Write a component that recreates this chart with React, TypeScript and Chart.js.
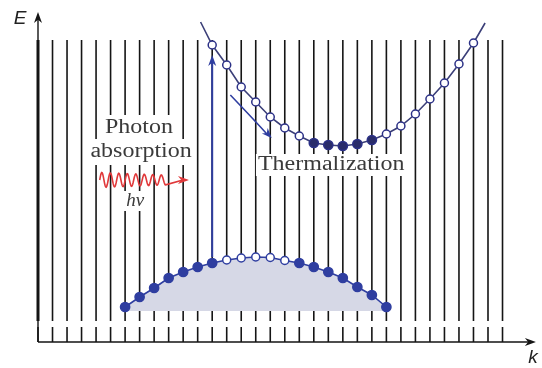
import React, { useEffect, useRef } from "react";
import { Chart, registerables } from "chart.js";

Chart.register(...registerables);

// Vertical k-lines (one per allowed k state)
const kLines = [0, 1, 2, 3, 4, 5, 6, 7, 8, 9, 10, 11, 12, 13, 14, 15, 16, 17, 18, 19, 20, 21, 22, 23, 24, 25, 26, 27, 28, 29, 30, 31, 32];

// Conduction band (first / last entries are line ends with no state marker)
const conductionK = [11.2, 12, 13, 14, 15, 16, 17, 18, 19, 20, 21, 22, 23, 24, 25, 26, 27, 28, 29, 30, 30.8];
const conductionE = [32.0, 29.7, 27.7, 25.5, 24.0, 22.5, 21.4, 20.6, 19.9, 19.7, 19.6, 19.8, 20.2, 20.8, 21.6, 22.8, 24.3, 25.9, 27.8, 29.9, 31.9];
const conductionState = ["end", "empty", "empty", "empty", "empty", "empty", "empty", "empty", "filled", "filled", "filled", "filled", "filled", "empty", "empty", "empty", "empty", "empty", "empty", "empty", "end"];

// Valence band
const valenceK = [6, 7, 8, 9, 10, 11, 12, 13, 14, 15, 16, 17, 18, 19, 20, 21, 22, 23, 24];
const valenceE = [3.5, 4.5, 5.4, 6.4, 7.0, 7.5, 7.9, 8.2, 8.4, 8.5, 8.45, 8.15, 7.9, 7.5, 7.0, 6.4, 5.5, 4.7, 3.5];
const valenceState = ["filled", "filled", "filled", "filled", "filled", "filled", "filled", "empty", "empty", "empty", "empty", "empty", "filled", "filled", "filled", "filled", "filled", "filled", "filled"];

const valenceBase = 3.1;

// Axis / annotation layout in data units
const X_MAX = 34.3;
const Y_MAX = 33;
const LINE_TOP = 30.2;
const LINE_BOTTOM = 2.1;
const TICK_TOP = 1.5;

const labels = {
  photon: { text: "Photon", k: 6.96, e: 21.4 },
  absorption: { text: "absorption", k: 7.1, e: 19.0 },
  therm: { text: "Thermalization", k: 20.2, e: 17.7 },
  hnu: { text: "hν", k: 6.7, e: 14.1 },
};

const NAVY = "#2c3187";
const NAVY_DARK = "#2a2d6a";
const BLUE = "#2f3ea0";
const RED = "#e0383a";
const TEXT = "#3a3a3a";
const SERIF = "20px 'Liberation Serif'";
const SERIF_IT = "italic 19px 'Liberation Serif'";
const STRETCH = 1.2;

function arrowHead(ctx: CanvasRenderingContext2D, x1: number, y1: number, x2: number, y2: number, len: number, half: number, color: string) {
  const a = Math.atan2(y2 - y1, x2 - x1);
  ctx.save();
  ctx.fillStyle = color;
  ctx.beginPath();
  ctx.moveTo(x2, y2);
  ctx.lineTo(x2 - len * Math.cos(a) + half * Math.sin(a), y2 - len * Math.sin(a) - half * Math.cos(a));
  ctx.lineTo(x2 - len * 0.7 * Math.cos(a), y2 - len * 0.7 * Math.sin(a));
  ctx.lineTo(x2 - len * Math.cos(a) - half * Math.sin(a), y2 - len * Math.sin(a) + half * Math.cos(a));
  ctx.closePath();
  ctx.fill();
  ctx.restore();
}

function whiteBox(ctx: CanvasRenderingContext2D, xs: any, ys: any, t: { text: string; k: number; e: number }, font: string, stretch: number, padX: number, h: number) {
  ctx.save();
  ctx.font = font;
  const w = ctx.measureText(t.text).width * stretch + padX * 2;
  const cx = xs.getPixelForValue(t.k);
  const cy = ys.getPixelForValue(t.e);
  ctx.fillStyle = "#ffffff";
  ctx.fillRect(cx - w / 2, cy - h / 2, w, h);
  ctx.restore();
}

const backgroundPlugin = {
  id: "kLines",
  beforeDatasetsDraw(chart: any) {
    const { ctx, scales } = chart;
    const xs = scales.x;
    const ys = scales.y;
    ctx.save();
    ctx.strokeStyle = "#151515";
    kLines.forEach((k) => {
      const x = xs.getPixelForValue(k);
      ctx.lineWidth = k === 0 ? 3 : 1.6;
      ctx.beginPath();
      ctx.moveTo(x, ys.getPixelForValue(LINE_TOP));
      ctx.lineTo(x, ys.getPixelForValue(LINE_BOTTOM));
      ctx.stroke();
      ctx.lineWidth = 1.6;
      ctx.beginPath();
      ctx.moveTo(x, ys.getPixelForValue(TICK_TOP));
      ctx.lineTo(x, ys.getPixelForValue(0));
      ctx.stroke();
    });
    // axes
    const x0 = xs.getPixelForValue(0);
    const y0 = ys.getPixelForValue(0);
    const yTop = ys.getPixelForValue(Y_MAX);
    const xEnd = xs.getPixelForValue(X_MAX);
    ctx.lineWidth = 1.4;
    ctx.beginPath();
    ctx.moveTo(x0, y0);
    ctx.lineTo(x0, yTop + 6);
    ctx.moveTo(x0, y0);
    ctx.lineTo(xEnd - 6, y0);
    ctx.stroke();
    arrowHead(ctx, x0, y0, x0, yTop, 11, 4, "#151515");
    arrowHead(ctx, x0, y0, xEnd, y0, 11, 4, "#151515");
    ctx.fillStyle = "#222";
    ctx.font = "italic 19px 'Liberation Sans'";
    ctx.textAlign = "center";
    ctx.textBaseline = "middle";
    ctx.fillText("E", x0 - 18, yTop + 7);
    ctx.fillText("k", xEnd - 3, y0 + 16);
    // white boxes behind the labels (they hide the k-lines)
    whiteBox(ctx, xs, ys, labels.photon, SERIF, STRETCH, 3, 26);
    whiteBox(ctx, xs, ys, labels.absorption, SERIF, STRETCH, 2, 26);
    whiteBox(ctx, xs, ys, labels.therm, SERIF, STRETCH, 2, 22);
    whiteBox(ctx, xs, ys, labels.hnu, SERIF_IT, 1, 6, 20);
    ctx.restore();
  },
  afterDatasetsDraw(chart: any) {
    const { ctx, scales } = chart;
    const xs = scales.x;
    const ys = scales.y;
    ctx.save();
    // photon absorption arrow
    const ax = xs.getPixelForValue(12);
    const ay1 = ys.getPixelForValue(8.5);
    const ay2 = ys.getPixelForValue(28.7);
    ctx.strokeStyle = BLUE;
    ctx.lineWidth = 2;
    ctx.beginPath();
    ctx.moveTo(ax, ay1);
    ctx.lineTo(ax, ay2 + 6);
    ctx.stroke();
    arrowHead(ctx, ax, ay1, ax, ay2, 11, 4, BLUE);

    // thermalization arrow
    const t1x = xs.getPixelForValue(13.25), t1y = ys.getPixelForValue(24.7);
    const tcx = xs.getPixelForValue(14.9), tcy = ys.getPixelForValue(22.2);
    const t2x = xs.getPixelForValue(16.1), t2y = ys.getPixelForValue(20.4);
    ctx.strokeStyle = BLUE;
    ctx.lineWidth = 1.6;
    ctx.beginPath();
    ctx.moveTo(t1x, t1y);
    ctx.quadraticCurveTo(tcx, tcy, t2x - 3, t2y - 2);
    ctx.stroke();
    arrowHead(ctx, tcx, tcy, t2x, t2y, 10, 4, BLUE);

    // photon wave
    const wx1 = xs.getPixelForValue(4.25);
    const wx2 = xs.getPixelForValue(8.8);
    const wx3 = xs.getPixelForValue(10.4);
    const wy = ys.getPixelForValue(16.2);
    ctx.strokeStyle = RED;
    ctx.lineWidth = 1.6;
    ctx.beginPath();
    for (let px = wx1; px <= wx2; px += 0.5) {
      const t = (px - wx1) / (wx2 - wx1);
      const amp = 7.5 * (1 - 0.35 * t);
      const y = wy - amp * Math.sin(((px - wx1) / 8.5) * Math.PI * 2);
      if (px === wx1) ctx.moveTo(px, y);
      else ctx.lineTo(px, y);
    }
    ctx.lineTo(wx3 - 6, wy);
    ctx.stroke();
    arrowHead(ctx, wx2, wy, wx3, wy, 11, 4, RED);

    // texts
    ctx.fillStyle = TEXT;
    ctx.textAlign = "center";
    ctx.textBaseline = "middle";
    const serif = (t: { text: string; k: number; e: number }) => {
      ctx.save();
      ctx.translate(xs.getPixelForValue(t.k), ys.getPixelForValue(t.e));
      ctx.scale(STRETCH, 1);
      ctx.font = SERIF;
      ctx.fillText(t.text, 0, 0);
      ctx.restore();
    };
    serif(labels.photon);
    serif(labels.absorption);
    serif(labels.therm);
    ctx.font = SERIF_IT;
    ctx.fillText(labels.hnu.text, xs.getPixelForValue(labels.hnu.k), ys.getPixelForValue(labels.hnu.e));
    ctx.restore();
  },
};

function pts(ks: number[], es: number[]) {
  return ks.map((k, i) => ({ x: k, y: es[i] }));
}

export default function App() {
  const ref = useRef<HTMLCanvasElement | null>(null);
  useEffect(() => {
    if (!ref.current) return;
    const chart = new Chart(ref.current, {
      type: "scatter",
      data: {
        datasets: [
          {
            data: pts(valenceK, valenceE),
            showLine: true,
            borderColor: BLUE,
            borderWidth: 1.6,
            fill: { value: valenceBase },
            backgroundColor: "rgb(214,216,230)",
            pointRadius: valenceState.map((s) => (s === "filled" ? 4.6 : 4)),
            pointBackgroundColor: valenceState.map((s) => (s === "filled" ? BLUE : "#ffffff")),
            pointBorderColor: BLUE,
            pointBorderWidth: 1.5,
            clip: false as any,
          } as any,
          {
            data: pts(conductionK, conductionE),
            showLine: true,
            borderColor: "#3b3f78",
            borderWidth: 1.6,
            fill: false,
            pointRadius: conductionState.map((s) => (s === "end" ? 0 : s === "filled" ? 4.6 : 4)),
            pointBackgroundColor: conductionState.map((s) => (s === "filled" ? NAVY_DARK : "#ffffff")),
            pointBorderColor: NAVY,
            pointBorderWidth: 1.5,
            clip: false as any,
          } as any,
        ],
      },
      options: {
        animation: false,
        responsive: false,
        devicePixelRatio: 1,
        layout: { padding: { left: 38, right: 2, top: 12, bottom: 26 } },
        plugins: { legend: { display: false }, tooltip: { enabled: false } },
        scales: {
          x: { type: "linear", min: 0, max: X_MAX, display: false },
          y: { type: "linear", min: 0, max: Y_MAX, display: false },
        },
      },
      plugins: [backgroundPlugin],
    });
    return () => chart.destroy();
  }, []);
  return (
    <div style={{ position: "fixed", left: 0, top: 0, width: 542, height: 368, background: "#fff" }}>
      <canvas ref={ref} width={542} height={368} />
    </div>
  );
}
